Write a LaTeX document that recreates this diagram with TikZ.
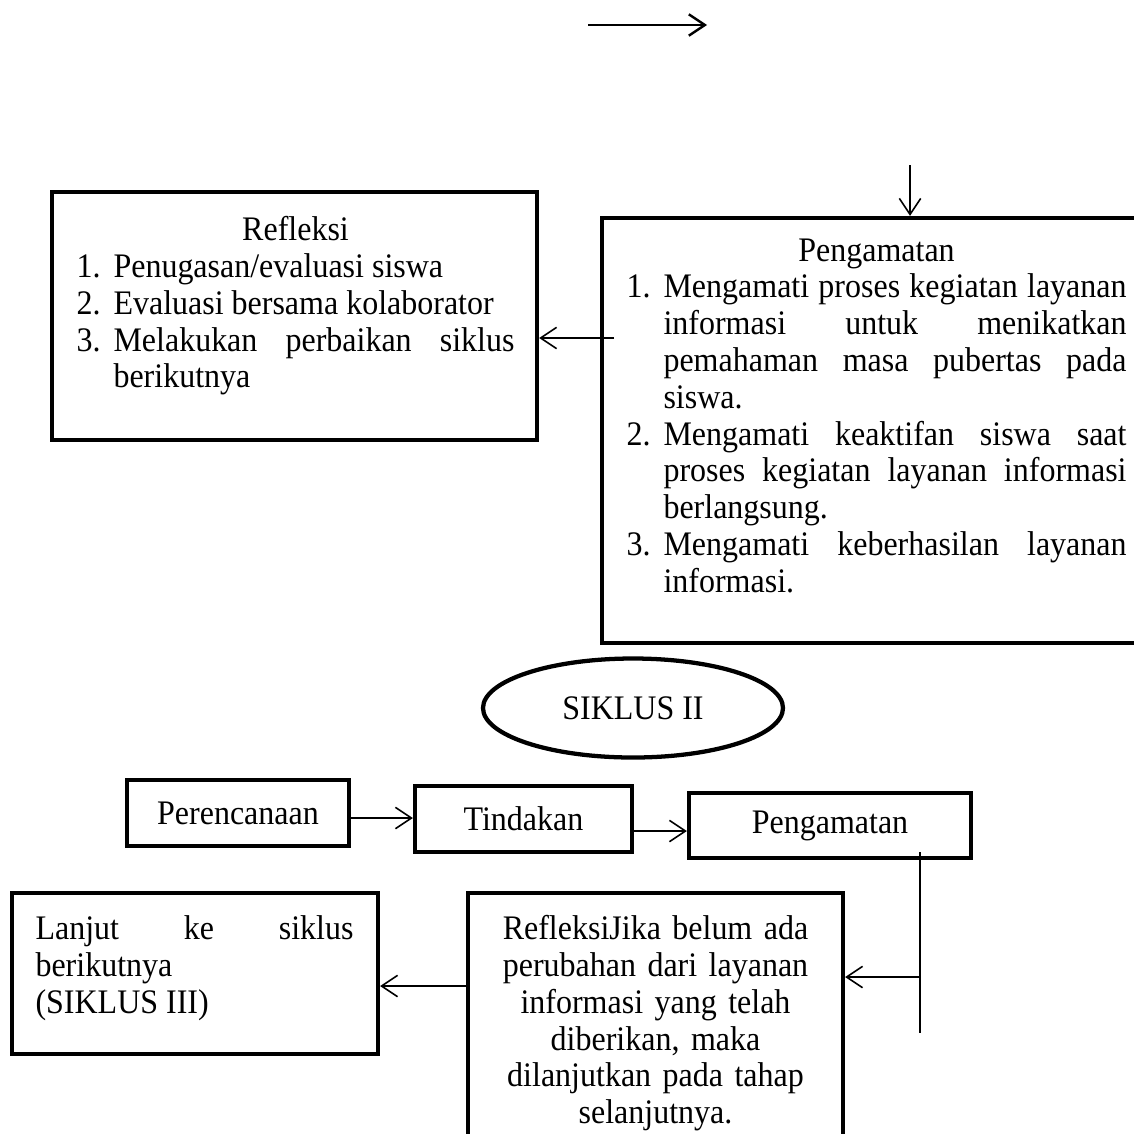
\documentclass[tikz,border=0pt]{standalone}
\usepackage{fontspec}
\setmainfont{Liberation Serif}[FakeStretch=0.93]
\usetikzlibrary{arrows.meta,positioning,shapes.geometric}
\newdimen\px \px=0.375pt
\newcommand{\huruf}{\fontsize{12.9}{13.8}\selectfont\hyphenpenalty=10000}
\newcommand{\butir}[2]{\par\hangindent=37\px\hangafter=1\noindent\makebox[37\px][l]{#1}#2\par}
\tikzset{
  kotak/.style={rectangle, draw, line width=1.6pt, inner sep=0pt, font=\huruf},
  isi/.style={inner sep=0pt, anchor=north west, align=justify, font=\huruf},
  panah/.style={-{Straight Barb[length=6pt,width=8pt]}, line width=0.6pt},
  garis/.style={line width=0.5pt},
}

\begin{document}
\begin{tikzpicture}[x=\px, y=-\px]
\useasboundingbox (0,0) rectangle (1134,1133);
\clip (0,0) rectangle (1134,1133);
% panah lepas di atas
\coordinate (atasA) at (588,25);
\coordinate (atasB) at (707,25);
\draw[panah, line width=0.9pt] (atasA) -- (atasB);
% refleksi siklus I
\node[kotak, minimum width=485\px, minimum height=248\px] (refleksi) at (294.5,316) {};
\node[isi, text width=438\px] (refleksiTeks) at (76,216) {\noindent\makebox[\linewidth]{Refleksi}\butir{1.}{Penugasan/evaluasi siswa}\butir{2.}{Evaluasi bersama kolaborator}\butir{3.}{Melakukan perbaikan siklus\linebreak berikutnya}};
% pengamatan siklus I
\node[kotak, minimum width=558\px, minimum height=425\px] (amatBesar) at (881,430.5) {};
\node[isi, text width=500\px] (amatTeks) at (626,238) {\noindent\makebox[\linewidth]{Pengamatan}\butir{1.}{Mengamati proses kegiatan layanan\linebreak informasi untuk menikatkan\linebreak pemahaman masa pubertas pada\linebreak siswa.}\butir{2.}{Mengamati keaktifan siswa saat\linebreak proses kegiatan layanan informasi\linebreak berlangsung.}\butir{3.}{Mengamati keberhasilan layanan\linebreak informasi.}};
\coordinate (masuk) at (910,165);
\draw[panah] (masuk) -- (masuk |- amatBesar.north);
\coordinate (keluar) at (614,338);
\draw[panah] (keluar) -- (keluar -| refleksi.east);
% siklus II
\node[ellipse, draw, line width=1.6pt, minimum width=300\px, minimum height=99\px, inner sep=0pt, font=\huruf] (siklus) at (633,708) {SIKLUS II};
\node[kotak, minimum width=222\px, minimum height=66\px] (rencana) at (238,813) {Perencanaan};
\node[kotak, minimum width=217\px, minimum height=66\px] (tindakan) at (523.5,819) {Tindakan};
\node[kotak, minimum width=282\px, minimum height=65\px] (amat) at (830,825.5) {Pengamatan};
\draw[panah] ([yshift=-5\px]rencana.east) coordinate (p1) -- (p1 -| tindakan.west);
\draw[panah] ([yshift=-12\px]tindakan.east) coordinate (p2) -- (p2 -| amat.west);
\coordinate (turunA) at (920,852);
\coordinate (turunB) at (920,1033);
\draw[garis] (turunA) -- (turunB);
\node[kotak, minimum width=375\px, minimum height=270\px] (refleksiB) at (655.5,1028) {};
\node[isi, anchor=north, text width=375\px, align=center] (refleksiBTeks) at (655.5,915) {RefleksiJika belum ada\\perubahan dari layanan\\informasi yang telah\\diberikan, maka\\dilanjutkan pada tahap\\selanjutnya.};
\coordinate (cabang) at (920,977);
\draw[panah] (cabang) -- (cabang -| refleksiB.east);
\node[kotak, minimum width=366\px, minimum height=161\px] (lanjut) at (195,973.5) {};
\node[isi, text width=318\px] (lanjutTeks) at (35,915) {\noindent Lanjut ke siklus\linebreak berikutnya\newline (SIKLUS III)};
\draw[panah] ([yshift=42\px]refleksiB.west) coordinate (p3) -- (p3 -| lanjut.east);
\end{tikzpicture}
\end{document}
